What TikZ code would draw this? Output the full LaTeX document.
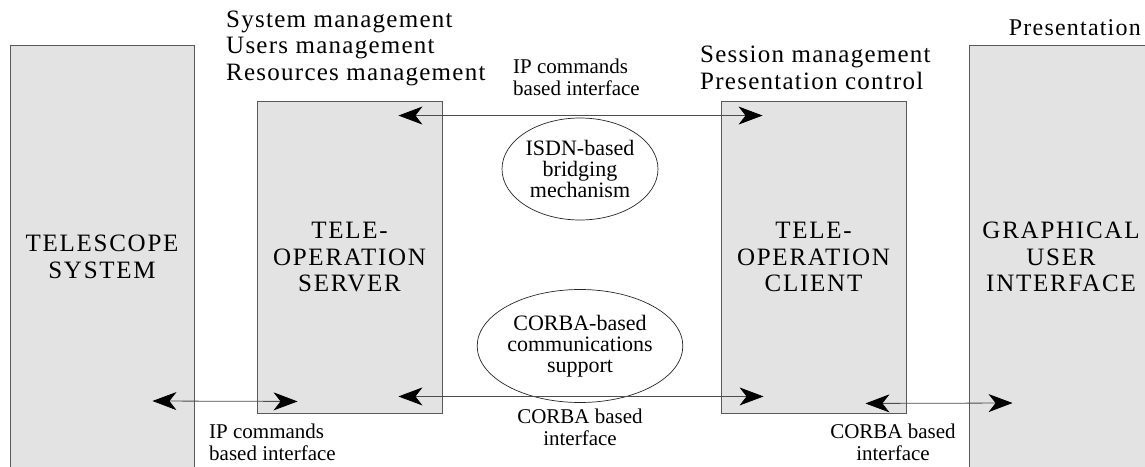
\documentclass[tikz,border=0pt]{standalone}
\usepackage{fontspec}
\setmainfont{Liberation Serif}
\newfontfamily\bigfont[LetterSpace=5]{Liberation Serif}
\newfontfamily\boxfont[LetterSpace=7]{Liberation Serif}
\newfontfamily\prefont[LetterSpace=5]{Liberation Serif}
\usetikzlibrary{arrows.meta,calc,shapes.geometric}
\begin{document}
\begin{tikzpicture}[x=1pt,y=-1pt,
  box/.style={draw=black!65, line width=0.9pt, fill=black!11, inner sep=0pt,
    font=\boxfont\fontsize{25}{26.5}\selectfont, align=center},
  big/.style={font=\bigfont\fontsize{25}{26.5}\selectfont, align=left, inner sep=0pt},
  small/.style={font=\fontsize{21}{22}\selectfont, align=center, inner sep=0pt},
  bubble/.style={draw=black!85, ellipse, line width=0.7pt, inner sep=0pt,
    font=\fontsize{22}{21}\selectfont, align=center},
  link/.style={draw=black!70, line width=0.8pt,
    >={Stealth[length=24pt,width=18pt,inset=7pt,black]}, <->}
]
\useasboundingbox (0,0) rectangle (1145,466);
\fill[white] (0,0) rectangle (1145,466);
\begin{scope}
\clip (0,0) rectangle (1145,466);
% boxes
\node[box, minimum width=184pt, minimum height=424pt] (tel) at (102,257) {TELESCOPE\\SYSTEM};
\node[box, minimum width=184pt, minimum height=424pt] (gui) at (1061,257) {GRAPHICAL\\USER\\INTERFACE};
\node[box, minimum width=185pt, minimum height=312pt] (srv) at (349.5,257) {TELE-\\OPERATION\\SERVER};
\node[box, minimum width=185pt, minimum height=312pt] (cli) at (813.5,257) {TELE-\\OPERATION\\CLIENT};
% bubbles
\node[bubble, minimum width=156pt, minimum height=102pt] (isdn) at (580,169) {ISDN-based\\bridging\\mechanism};
\node[bubble, minimum width=156pt, minimum height=113pt] (corba) at (580,346) {CORBA-based\\communications\\support};
% connector end points
\coordinate (t1) at ($(srv.north east)+(-44,15)$);
\coordinate (t2) at ($(cli.north west)+(42,15)$);
\coordinate (m1) at ($(srv.south east)+(-44,-17)$);
\coordinate (m2) at ($(cli.south west)+(43,-17)$);
\coordinate (l1) at ($(tel.east)+(-42,144)$);
\coordinate (l2) at ($(srv.south west)+(41,-12)$);
\coordinate (r1) at ($(cli.south east)+(-41,-10)$);
\coordinate (r2) at ($(gui.west)+(44,146)$);
\draw[link] (t1) -- (t2);
\draw[link] (m1) -- (m2);
\draw[link] (l1) -- (l2);
\draw[link] (r1) -- (r2);
% labels (base anchor = baseline of last line)
\node[big, anchor=base west] (lsys) at (226,80) {System management\\Users management\\Resources management};
\node[big, anchor=base west] (lses) at (700,89) {Session management\\Presentation control};
\node[big, font=\prefont\fontsize{24}{26.5}\selectfont, anchor=base east] (lpre) at (1141,35) {Presentation};
\node[small, align=left, anchor=base west] (lipt) at (513,95) {IP commands\\based interface};
\node[small, align=left, anchor=base west] (lipb) at (209,460) {IP commands\\based interface};
\node[small, anchor=base] (lcbm) at (580,445) {CORBA based\\interface};
\node[small, anchor=base] (lcbr) at (893,460) {CORBA based\\interface};
\end{scope}
\end{tikzpicture}
\end{document}
